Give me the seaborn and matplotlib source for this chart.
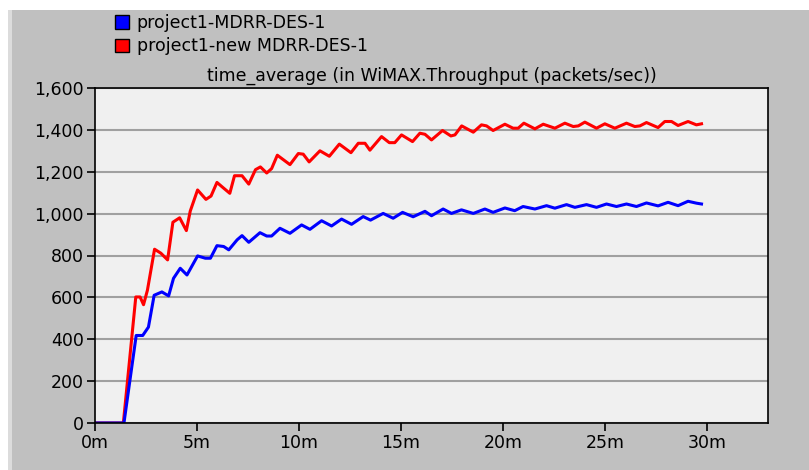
import pandas as pd
import numpy as np
import matplotlib
matplotlib.use('Agg')
import matplotlib.pyplot as plt
import seaborn as sns
from matplotlib.patches import Patch, Rectangle
from matplotlib.ticker import FuncFormatter

# values (time in minutes, packets/sec)
blue_t = [0, 1.42, 2.02, 2.34, 2.62, 2.90, 3.28, 3.61, 3.85, 4.18, 4.51, 5.03, 5.41,
          5.66, 5.98, 6.31, 6.56, 6.97, 7.21, 7.54, 8.09, 8.42, 8.66, 9.07, 9.56,
          10.13, 10.54, 11.11, 11.6, 12.09, 12.58, 13.15, 13.51, 14.13, 14.62, 15.08,
          15.6, 16.18, 16.5, 17.07, 17.48, 17.97, 18.55, 19.12, 19.52, 20.1, 20.58,
          20.99, 21.57, 22.14, 22.55, 23.12, 23.53, 24.1, 24.59, 25.08, 25.57, 26.06,
          26.55, 27.04, 27.61, 28.1, 28.59, 29.08, 29.49, 29.74]
blue_v = [0, 0, 418, 418, 458, 610, 626, 607, 691, 739, 707, 798, 787,
          787, 847, 843, 827, 875, 895, 863, 909, 893, 893, 930, 906,
          946, 925, 966, 941, 974, 949, 986, 969, 1001, 978, 1006,
          985, 1011, 990, 1022, 1001, 1018, 1001, 1022, 1006, 1027, 1014,
          1034, 1022, 1038, 1026, 1043, 1030, 1043, 1030, 1046, 1034, 1046,
          1034, 1051, 1037, 1054, 1038, 1059, 1050, 1046]

red_t = [0, 1.39, 2.0, 2.21, 2.38, 2.57, 2.92, 3.23, 3.56, 3.82, 4.15, 4.48, 4.67,
         5.03, 5.44, 5.69, 5.98, 6.28, 6.61, 6.84, 7.21, 7.54, 7.87, 8.11, 8.42,
         8.66, 8.94, 9.56, 9.97, 10.21, 10.5, 11.03, 11.49, 11.98, 12.55, 12.91,
         13.24, 13.48, 14.05, 14.43, 14.7, 15.03, 15.57, 15.93, 16.18, 16.5, 17.04,
         17.45, 17.65, 17.98, 18.55, 18.95, 19.2, 19.52, 20.1, 20.5, 20.75, 21.03,
         21.57, 21.98, 22.55, 23.04, 23.45, 23.7, 24.02, 24.59, 25.0, 25.49, 26.06,
         26.47, 26.72, 27.04, 27.61, 27.94, 28.27, 28.59, 29.08, 29.49, 29.74]
red_v = [0, 0, 602, 602, 565, 634, 830, 811, 779, 959, 980, 919, 1012,
         1113, 1068, 1084, 1149, 1124, 1097, 1181, 1181, 1141, 1210, 1223, 1194,
         1215, 1279, 1234, 1287, 1284, 1247, 1300, 1274, 1332, 1291, 1336,
         1336, 1303, 1368, 1339, 1339, 1376, 1344, 1384, 1379, 1352, 1397,
         1371, 1376, 1419, 1389, 1424, 1419, 1397, 1427, 1408, 1408, 1432,
         1405, 1427, 1408, 1432, 1416, 1419, 1437, 1408, 1429, 1408, 1432,
         1416, 1419, 1435, 1411, 1440, 1440, 1421, 1440, 1424, 1429]

names = ['project1-MDRR-DES-1', 'project1-new MDRR-DES-1']
colors = ['#0000ff', '#ff0000']
title = 'time_average (in WiMAX.Throughput (packets/sec))'
x_ticks = [0, 5, 10, 15, 20, 25, 30]
y_ticks = [0, 200, 400, 600, 800, 1000, 1200, 1400, 1600]

blue = pd.DataFrame({'t': blue_t, 'v': blue_v})
red = pd.DataFrame({'t': red_t, 'v': red_v})

plt.rcParams['font.family'] = ['DejaVu Sans']

fig = plt.figure(figsize=(8.09, 4.70), dpi=100, facecolor='#c0c0c0')
# white frame strips of the screenshot
fig.patches.append(Rectangle((0, 1 - 10 / 470), 1, 10 / 470, transform=fig.transFigure,
                             facecolor='white', edgecolor='none', zorder=0))
fig.patches.append(Rectangle((0, 0), 8 / 809, 1, transform=fig.transFigure,
                             facecolor='white', edgecolor='none', zorder=0))
fig.patches.append(Rectangle((8 / 809, 0), 4 / 809, 1 - 10 / 470, transform=fig.transFigure,
                             facecolor='#dcdcdc', edgecolor='none', zorder=0))

ax = fig.add_axes([95 / 809, 1 - 423 / 470, (768 - 95) / 809, (423 - 88) / 470])
ax.set_facecolor('#f0f0f0')

# red first so blue sits on top where they overlap
sns.lineplot(data=red, x='t', y='v', color=colors[1], linewidth=2.2, ax=ax)
sns.lineplot(data=blue, x='t', y='v', color=colors[0], linewidth=2.2, ax=ax)

ax.set_xlim(0, 33.0)
ax.set_ylim(0, 1600)
ax.set_xticks(x_ticks)
ax.set_xticklabels([f'{x}m' for x in x_ticks])
ax.set_yticks(y_ticks)
ax.yaxis.set_major_formatter(FuncFormatter(lambda v, p: f'{int(v):,}'))
ax.set_xlabel('')
ax.set_ylabel('')
ax.grid(axis='y', color='#a0a0a0', linewidth=1.5)
ax.set_axisbelow(True)
ax.tick_params(axis='both', direction='out', length=6, width=1.2, colors='black',
               labelsize=12.5, pad=2)
for s in ax.spines.values():
    s.set_color('black')
    s.set_linewidth(1.2)

ax.set_title(title, fontsize=12.5, pad=5)

handles = [Patch(facecolor=c, edgecolor='black', linewidth=1) for c in colors]
fig.legend(handles, names, loc='upper left', bbox_to_anchor=(115 / 809, 1 - 14 / 470),
           frameon=False, fontsize=12.5, handlelength=0.8, handleheight=0.8,
           handletextpad=0.45, labelspacing=0.3, borderpad=0, borderaxespad=0)

fig.savefig('out.png', dpi=100, facecolor=fig.get_facecolor())
